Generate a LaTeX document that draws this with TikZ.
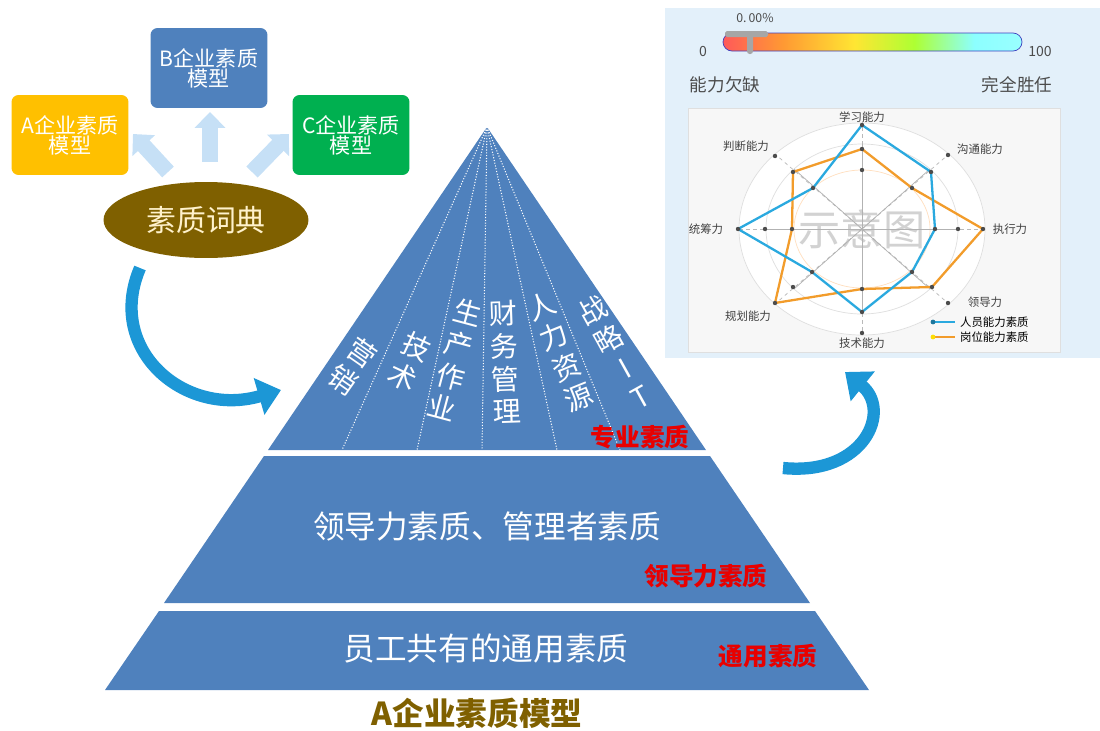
\documentclass[tikz,border=0pt]{standalone}
\usepackage{fontspec}
\setmainfont{Noto Sans CJK SC}
\usepackage{tikz}
\usetikzlibrary{arrows.meta, positioning, calc, shapes.geometric}
\definecolor{pyrblue}{HTML}{4F81BD}
\definecolor{boxorange}{HTML}{FFC000}
\definecolor{boxgreen}{HTML}{00B050}
\definecolor{dictbrown}{HTML}{7F6000}
\definecolor{dicttext}{HTML}{FFF2CC}
\definecolor{paleblue}{HTML}{C6E0F6}
\definecolor{curveblue}{HTML}{1C97D6}
\definecolor{panelblue}{HTML}{E3F0FA}
\definecolor{radarblue}{HTML}{2AA9DF}
\definecolor{radarorange}{HTML}{F29C2B}
\definecolor{tagred}{HTML}{E80000}
\pgfdeclarehorizontalshading{meterbar}{100bp}{color(0bp)=(red!65!white); color(25bp)=(red!65!white); color(35bp)=(orange!80!white); color(47bp)=(yellow!75!orange!80!white); color(57bp)=(green!40!yellow!80!white); color(67bp)=(cyan!45!white); color(75bp)=(cyan!40!white); color(100bp)=(cyan!40!white)}

\begin{document}
\begin{tikzpicture}[
    x=0.02cm, y=-0.02cm,
    model/.style={rectangle, rounded corners=4pt, minimum width=2.34cm, minimum height=1.6cm, inner sep=0pt, align=center, text=white, font=\fontsize{12}{11.5}\selectfont},
    dictnode/.style={ellipse, fill=dictbrown, minimum width=4.1cm, minimum height=1.52cm, inner sep=0pt, text=dicttext, font=\fontsize{17}{17}\selectfont},
    fatarrow/.style={paleblue, line width=9pt, -{Triangle[length=9pt,width=17pt]}},
    curvearrow/.style={curveblue, line width=7pt, -{Triangle[length=13pt,width=21pt]}},
    sector/.style={text=white, align=center, inner sep=0pt, font=\fontsize{16}{18.7}\selectfont},
    layer/.style={text=white, inner sep=0pt, font=\fontsize{18}{18}\selectfont},
    tag/.style={text=tagred, inner sep=0pt, font=\fontsize{14}{14}\selectfont\bfseries},
    sectorline/.style={white, line width=0.6pt, densely dotted},
    axislabel/.style={text=gray!50!black, inner sep=1pt, font=\fontsize{6.5}{6.5}\selectfont},
    meterlabel/.style={text=gray!60!black, inner sep=0pt, font=\fontsize{10}{10}\selectfont},
    vdot/.style={fill=gray!60!black}
]
\useasboundingbox (0,0) rectangle (1100,731);

\node[model, fill=boxorange] (boxA) at (70,135) {A企业素质\\模型};
\node[model, fill=pyrblue] (boxB) at (209,68) {B企业素质\\模型};
\node[model, fill=boxgreen] (boxC) at (351,135) {C企业素质\\模型};
\node[dictnode] (dict) at (206,220) {素质词典};
\coordinate (ua1) at (168,172);
\coordinate (ua2) at (133,134);
\coordinate (ub1) at (210,162);
\coordinate (ub2) at (210,112);
\coordinate (uc1) at (252,172);
\coordinate (uc2) at (289,134);
\draw[fatarrow] (ua1) -- (ua2);
\draw[fatarrow] (ub1) -- (ub2);
\draw[fatarrow] (uc1) -- (uc2);

\coordinate (apex) at (487,127);
\fill[pyrblue] (apex) -- (706,450) -- (268,450) -- cycle;
\fill[pyrblue] (264,456) -- (710,456) -- (810,603) -- (164,603) -- cycle;
\fill[pyrblue] (159,611) -- (815,611) -- (869,690) -- (105,690) -- cycle;
\foreach \bx in {342,417,482,557,620}
    \draw[sectorline] (apex) -- (\bx,450);
\node[sector, rotate=-35] (sales) at (353,366) {营\\销};
\node[sector, rotate=-25] (tech) at (410,362) {技\\术};
\node[sector, rotate=-15] (prod) at (455,360) {生\\产\\作\\业};
\node[sector, rotate=2] (fin) at (505,362) {财\\务\\管\\理};
\node[sector, rotate=22] (hr) at (560,352) {人\\力\\资\\源};
\node[sector, rotate=29] (strat) at (616,353) {战\\略\\I\\T};
\node[tag] (protag) at (640,437) {专业素质};
\node[layer] (lead) at (487,526) {领导力素质、管理者素质};
\node[tag] (leadtag) at (706,576) {领导力素质};
\node[layer] (common) at (486,648) {员工共有的通用素质};
\node[tag] (commontag) at (768,656) {通用素质};
\node[text=dictbrown, font=\fontsize{18}{18}\selectfont\bfseries] (title) at (477,713) {A企业素质模型};

\coordinate (lt) at (140,268);
\coordinate (lh) at (281,390);
\draw[curvearrow] (lt) .. controls (105,350) and (185,418) .. (lh);
\coordinate (rt) at (783,468);
\coordinate (rh) at (845,372);
\draw[curvearrow] (rt) .. controls (865,476) and (892,410) .. (rh);

\fill[panelblue] (665,8) rectangle (1100,358);
\shadedraw[shading=meterbar, draw=gray!50!blue, rounded corners=0.18cm] (723,33) rectangle (1022,51);
\fill[gray!70, rounded corners=1pt] (725,31) rectangle (768,37);
\fill[gray!70, rounded corners=1.5pt] (747,31) rectangle (753,54);
\node[text=gray!60!black, inner sep=0pt, font=\fontsize{7}{7}\selectfont] (pct) at (755,18) {0.\,00\%};
\node[meterlabel, font=\fontsize{8}{8}\selectfont] (zero) at (703,51) {0};
\node[meterlabel, font=\fontsize{8}{8}\selectfont] (hundred) at (1040,51) {100};
\node[meterlabel] (lack) at (725,85) {能力欠缺};
\node[meterlabel] (full) at (1017,85) {完全胜任};
\filldraw[fill=gray!6, draw=gray!25] (688,108) rectangle (1060,352);

\begin{scope}[shift={(862,229)}]
\filldraw[fill=white, draw=gray!25] (0,0) ellipse [x radius=123, y radius=106];
\draw[gray!25] (0,0) ellipse [x radius=96, y radius=85];
\draw[orange!25] (0,0) ellipse [x radius=68, y radius=59];
\node[text=gray!35, inner sep=0pt, font=\fontsize{24}{24}\selectfont] (wm) at (0,0) {示意图};
\foreach \dx/\dy in {0/-108, 87/-75, 123/0, 87/75, 0/106, -87/75, -123/0, -87/-75}
    \draw[gray!55, dash pattern=on 2pt off 2pt] (0,0) -- (\dx,\dy);
\foreach \dx/\dy in {0/-85, 68/-60, 96/0, 68/60, 0/85, -68/60, -96/0, -68/-60}
    \draw[gray!60] (0,0) -- (\dx,\dy);
\draw[radarorange, line width=1.3pt, line join=round] (0,-80) -- (50,-41) -- (121,0) -- (70,58) -- (0,60) -- (-87,74) -- (-70,0) -- (-69,-57) -- cycle;
\draw[radarblue, line width=1.3pt, line join=round] (0,-104) -- (69,-57) -- (73,0) -- (50,43) -- (0,83) -- (-50,43) -- (-124,0) -- (-49,-41) -- cycle;
\foreach \dx/\dy in {0/-59, 86/-74, 96/0, 86/74, 0/104, -69/58, -97/0, -87/-73, 0/-104, 69/-57, 73/0, 50/43, 0/83, -50/43, -124/0, -49/-41, 0/-80, 50/-41, 121/0, 70/58, 0/60, -87/74, -70/0, -69/-57}
    \fill[vdot] (\dx,\dy) circle [radius=2.2];
\end{scope}
\node[axislabel] (learn) at (862,117) {学习能力};
\node[axislabel] (comm) at (980,149) {沟通能力};
\node[axislabel] (exec) at (1010,229) {执行力};
\node[axislabel] (leadax) at (985,302) {领导力};
\node[axislabel] (techax) at (862,343) {技术能力};
\node[axislabel] (plan) at (748,316) {规划能力};
\node[axislabel] (coord) at (706,229) {统筹力};
\node[axislabel] (judge) at (746,146) {判断能力};

\coordinate (lg1) at (933,322);
\coordinate (lg2) at (955,322);
\coordinate (lg3) at (933,337);
\coordinate (lg4) at (955,337);
\draw[radarblue, line width=1pt] (lg1) -- (lg2);
\fill[radarblue!70!black] (lg1) circle [radius=2.4];
\draw[radarorange, line width=1pt] (lg3) -- (lg4);
\fill[yellow!80!orange] (lg3) circle [radius=2.4];
\node[axislabel, anchor=west, text=black] (pers) at (958,322) {人员能力素质};
\node[axislabel, anchor=west, text=black] (post) at (958,337) {岗位能力素质};
\end{tikzpicture}
\end{document}
